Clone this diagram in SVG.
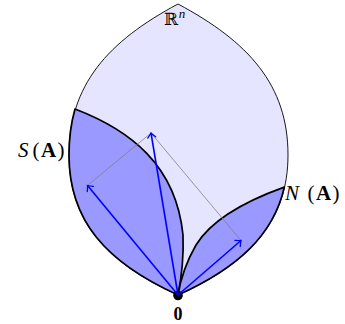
<svg xmlns="http://www.w3.org/2000/svg" width="345" height="324" viewBox="0 0 345 324">
<style>
.lbl{font-family:"Liberation Serif","DejaVu Serif",serif;fill:#000}
.bb{font-family:"DejaVu Serif","Liberation Serif",serif;fill:#000}
.big{fill:#e5e5ff;stroke:#000;stroke-width:0.9}
.reg{fill:#9999ff;stroke:#000;stroke-width:1.7;stroke-linejoin:round}
.vec{stroke:#0000ff;stroke-width:1.6;fill:none}
.aux{stroke:#808080;stroke-width:0.8;fill:none}
</style>
<defs>
<marker id="tip" markerUnits="userSpaceOnUse" markerWidth="12" markerHeight="12" viewBox="-6 -6 12 12" refX="0" refY="0" orient="auto" overflow="visible">
<path d="M-4.5,-4 Q-1.2,-0.8 0,0 Q-1.2,0.8 -4.5,4" fill="none" stroke="#0000ff" stroke-width="1.3" stroke-linecap="round"/>
</marker>
</defs>
<g id="Rn">
<path class="big" d="M178,295 C105.2,262.2 69,220 69,155 C69,85 107.6,41.6 178,4 C248.4,41.6 288,85 288,155 C288,220 251,262.2 178,295 Z"/>
<text class="bb" x="164" y="25" font-size="17">ℝ<tspan class="lbl" font-size="13" font-style="italic" dx="0.5" dy="-7">n</tspan></text>
</g>
<g id="SA">
<path class="reg" d="M178,295 C105.2,262.2 69,220 69,155 C69,137.5 71.4,121.7 75,109 C130,130 176,165 183,235 C184,262 181,280 178,295 Z"/>
<text class="lbl" y="157" font-size="21"><tspan x="18" font-style="italic">S</tspan><tspan x="32.5">(</tspan><tspan x="41" font-weight="bold">A</tspan><tspan x="57.5">)</tspan></text>
</g>
<g id="NA">
<path class="reg" d="M178,295 C237.9,268.1 273.5,234.9 284.3,187.1 C240,203 210,222 196,245 C188,259 181,276 178,295 Z"/>
<text class="lbl" y="200" font-size="21"><tspan x="285" font-style="italic">N</tspan><tspan x="307.5">(</tspan><tspan x="316" font-weight="bold">A</tspan><tspan x="332.5">)</tspan></text>
</g>
<g id="origin">
<circle cx="178" cy="295.5" r="4.8" fill="#000"/>
<text class="lbl" x="178" y="320" font-size="18" font-weight="bold" text-anchor="middle">0</text>
</g>
<g id="connectors">
<path class="aux" d="M87.5,185.5 L151,133 L241,240.5"/>
<line class="vec" x1="178" y1="295" x2="87.5" y2="185.5" marker-end="url(#tip)"/>
<line class="vec" x1="178" y1="295" x2="151" y2="133" marker-end="url(#tip)"/>
<line class="vec" x1="178" y1="295" x2="241" y2="240.5" marker-end="url(#tip)"/>
</g>
</svg>
